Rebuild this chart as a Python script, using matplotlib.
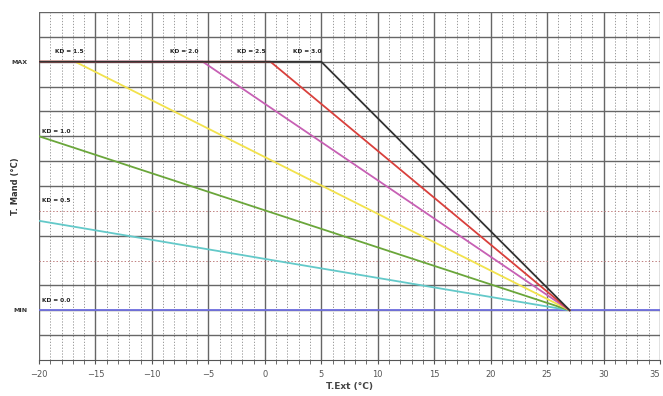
import matplotlib
matplotlib.use("Agg")
import matplotlib.pyplot as plt
import numpy as np

# --- data ---
T_MIN = 2
T_MAX = 12
kd_labels = ["KD = 0.0", "KD = 0.5", "KD = 1.0", "KD = 1.5", "KD = 2.0", "KD = 2.5", "KD = 3.0"]
kd0_x = [-20, 35];            kd0_y = [2, 2]
kd05_x = [-20, 27];           kd05_y = [5.6, 2]
kd10_x = [-20, 27];           kd10_y = [9.0, 2]
kd15_x = [-20, -16.8, 27];    kd15_y = [12, 12, 2]
kd20_x = [-20, -5.5, 27];     kd20_y = [12, 12, 2]
kd25_x = [-20, 0.5, 27];      kd25_y = [12, 12, 2]
kd30_x = [-20, 5, 27];        kd30_y = [12, 12, 2]
x_ticks = [-20, -15, -10, -5, 0, 5, 10, 15, 20, 25, 30, 35]
y_tick_vals = [T_MIN, T_MAX]
y_tick_labels = ["MIN", "MAX"]

series = [
    (kd0_x, kd0_y, "#7070e0"),
    (kd05_x, kd05_y, "#63c9c9"),
    (kd10_x, kd10_y, "#6aa63a"),
    (kd15_x, kd15_y, "#f2e24c"),
    (kd20_x, kd20_y, "#c760b4"),
    (kd25_x, kd25_y, "#d9403c"),
    (kd30_x, kd30_y, "#333333"),
]
label_pos = [(-19.7, 2.4), (-19.7, 6.4), (-19.7, 9.2), (-18.6, 12.4),
             (-8.4, 12.4), (-2.5, 12.4), (2.5, 12.4)]

fig = plt.figure(figsize=(6.63, 3.96), dpi=100)
ax = fig.add_axes([39/663, 36/396, 621/663, 348/396])
ax.set_xlim(-20, 35)
ax.set_ylim(0, 14)

# grid
for xv in range(-20, 36):
    if xv % 5 == 0:
        ax.axvline(xv, color="#666666", lw=1.0, zorder=1)
    else:
        ax.axvline(xv, color="#8a8a8a", lw=0.6, ls=(0, (1.5, 2)), zorder=1)
for yv in range(1, 15):
    if yv in (4, 6):
        ax.axhline(yv, color="#c08080", lw=0.7, ls=(0, (1.5, 2)), zorder=1)
    else:
        ax.axhline(yv, color="#666666", lw=1.0, zorder=1)

for (xs, ys, c) in series:
    ax.plot(xs, ys, color=c, lw=1.3, zorder=3)

for lab, (lx, ly) in zip(kd_labels, label_pos):
    ax.text(lx, ly, lab, fontsize=4.2, fontweight="bold", color="#222222",
            ha="left", va="center", zorder=4)

for s in ["top", "right", "left"]:
    ax.spines[s].set_visible(False)
ax.spines["bottom"].set_color("#555555")

ax.set_xticks(x_ticks)
ax.set_xticks(range(-20, 36), minor=True)
ax.tick_params(axis="x", which="both", length=3, color="#555555",
               labelsize=6, labelcolor="#555555", pad=4)
xtl = ax.get_xticklabels()
xtl[-1].set_horizontalalignment("right")
ax.set_yticks(y_tick_vals)
ax.set_yticklabels(y_tick_labels, fontsize=4.5, fontweight="bold", color="#333333")
ax.tick_params(axis="y", length=0, pad=8)

ax.set_xlabel("T.Ext (°C)", fontsize=6.5, fontweight="bold", color="#444444", labelpad=2)
ax.set_ylabel("T. Mand (°C)", fontsize=6, fontweight="bold", color="#333333", labelpad=6)
ax.yaxis.set_label_coords(-0.03, 0.5)

fig.savefig("out.png", dpi=100)
